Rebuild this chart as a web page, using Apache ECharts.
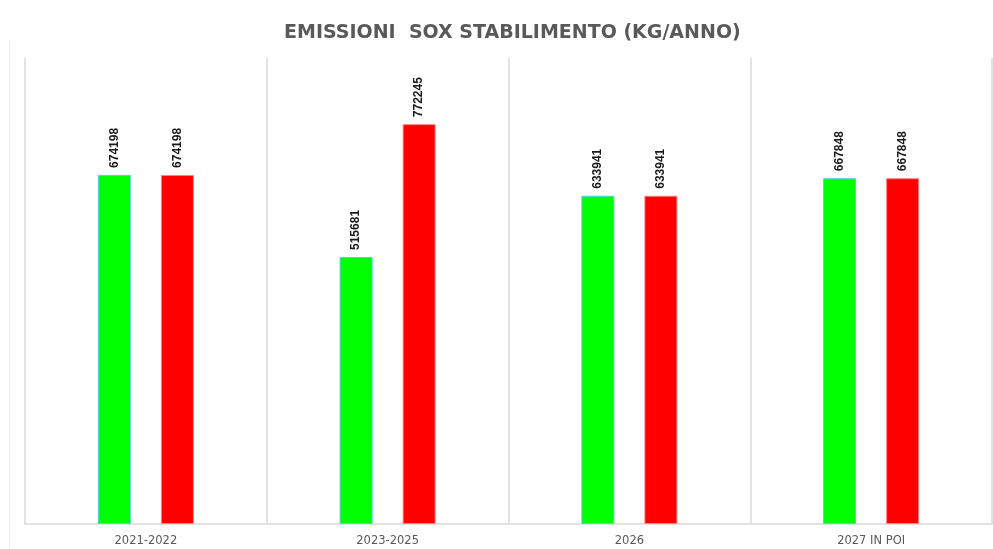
<!DOCTYPE html>
<html>
<head>
<meta charset="utf-8">
<script src="https://cdn.jsdelivr.net/npm/echarts@6/dist/echarts.min.js"></script>
<style>
  html, body { margin: 0; padding: 0; background: #ffffff; }
  #chart { width: 993px; height: 549px; }
</style>
</head>
<body>
<div id="chart"></div>
<script>
// Categories and SOx emission values (kg/anno)
const categories = ['2021-2022', '2023-2025', '2026', '2027 IN POI'];
const serie1 = [674198, 515681, 633941, 667848];
const serie2 = [674198, 772245, 633941, 667848];
const titolo = 'EMISSIONI  SOX STABILIMENTO (KG/ANNO)';

const chart = echarts.init(document.getElementById('chart'), null, { renderer: 'canvas' });

const labelStyle = {
  show: true,
  position: 'top',
  rotate: 90,
  align: 'left',
  verticalAlign: 'middle',
  distance: 7,
  fontFamily: '"Liberation Sans Narrow", "Liberation Sans", Arial, sans-serif',
  fontWeight: 'bold',
  fontSize: 12,
  color: '#1a1a1a'
};

chart.setOption({
  animation: false,
  backgroundColor: '#ffffff',
  title: {
    text: titolo,
    left: 279,
    top: 19,
    textStyle: {
      fontFamily: '"DejaVu Sans", sans-serif',
      fontWeight: 'bold',
      fontSize: 19,
      color: '#595959'
    }
  },
  graphic: [{
    type: 'line',
    shape: { x1: 9.5, y1: 40, x2: 9.5, y2: 549 },
    style: { stroke: '#ececec', lineWidth: 1 }
  }],
  grid: { left: 25, right: 1, top: 58, bottom: 25, containLabel: false },
  xAxis: {
    type: 'category',
    data: categories,
    boundaryGap: true,
    axisLine: { show: true, lineStyle: { color: '#d9d9d9', width: 1.5 } },
    axisTick: { show: false },
    splitLine: { show: true, lineStyle: { color: '#d9d9d9', width: 1.5 } },
    axisLabel: {
      margin: 11,
      fontFamily: '"DejaVu Sans", sans-serif',
      fontSize: 11.5,
      color: '#595959'
    }
  },
  yAxis: {
    type: 'value',
    min: 0,
    max: 900000,
    show: false,
    splitLine: { show: false }
  },
  series: [
    {
      name: 'Serie 1',
      type: 'bar',
      data: serie1,
      barWidth: 33,
      barGap: '91%',
      itemStyle: { color: '#00ff00', borderColor: '#4fd0e8', borderWidth: 1 },
      label: labelStyle
    },
    {
      name: 'Serie 2',
      type: 'bar',
      data: serie2,
      barWidth: 33,
      itemStyle: { color: '#ff0000', borderColor: '#ff8080', borderWidth: 1 },
      label: labelStyle
    }
  ]
});
</script>
</body>
</html>
